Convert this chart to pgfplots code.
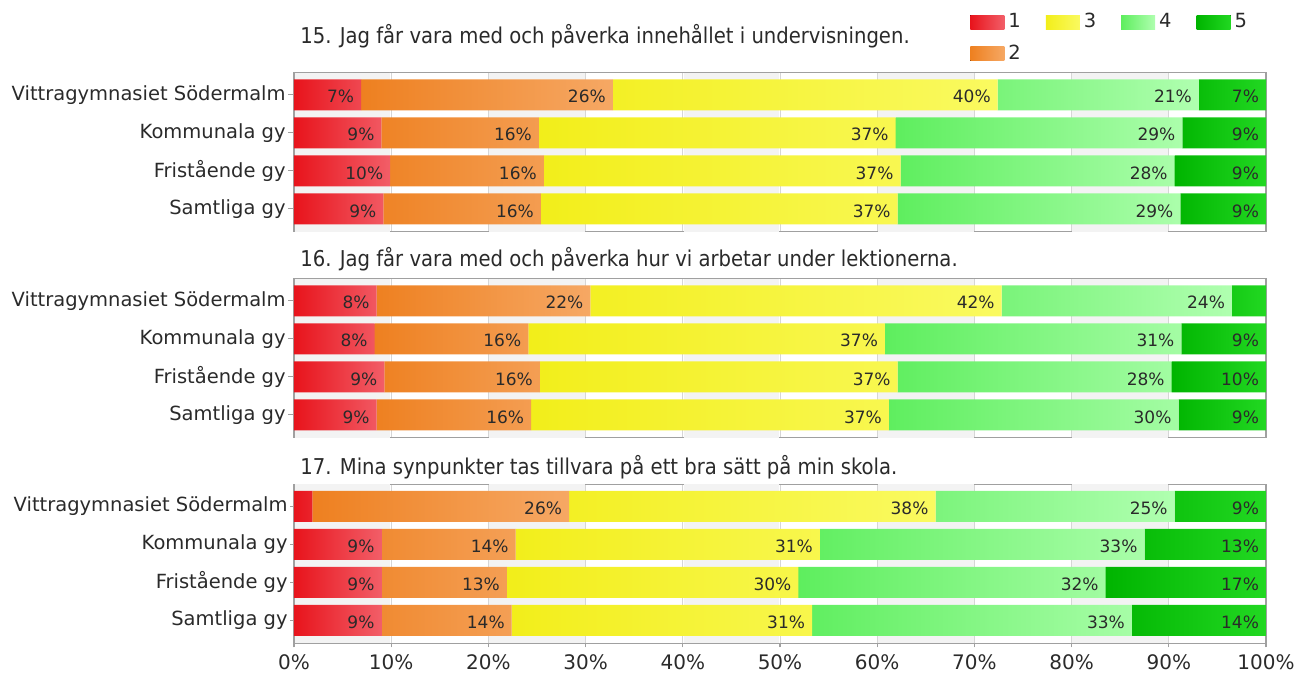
\documentclass[border=0pt]{standalone}
\usepackage{pgfplots}
\pgfplotsset{compat=1.18}
\usepackage{fontspec}
\setmainfont{DejaVu Sans}
\newfontfamily\condfont{DejaVu Sans Condensed}

\definecolor{r1}{HTML}{E8141C}\definecolor{r1l}{HTML}{F25E68}
\definecolor{o1}{HTML}{EE8020}\definecolor{o1l}{HTML}{F6A864}
\definecolor{y1}{HTML}{F2EE1A}\definecolor{y1l}{HTML}{FAFA60}
\definecolor{g1}{HTML}{5EEE5E}\definecolor{g1l}{HTML}{B0FFB0}
\definecolor{d1}{HTML}{00B400}\definecolor{d1l}{HTML}{22D822}
\definecolor{txt}{HTML}{2A2A2A}
\definecolor{framec}{HTML}{A0A0A0}
\definecolor{band}{HTML}{F3F3F3}
\definecolor{gridc}{HTML}{D6D6D6}

\pgfplotsset{
 panel/.style={
  scale only axis, width=486pt, height=79.5pt,
  xbar stacked, bar width=15.5pt,
  xmin=0, xmax=100, ymin=-0.58, ymax=3.6, y dir=reverse,
  ytick={0,1,2,3},
  yticklabels={Vittragymnasiet Södermalm, Kommunala gy, Fristående gy, Samtliga gy},
  xtick={0,10,...,100},
  extra x ticks={5,25,45,65,85},
  extra x tick labels={},
  extra x tick style={grid=major, major grid style={band, line width=47.8pt}, major tick length=0pt},
  xmajorgrids, grid style={gridc, line width=0.5pt},
  axis line style={framec, line width=0.6pt},
  tick align=outside, ytick pos=left, xtick pos=bottom,
  major tick length=3pt,
  tick style={framec, line width=0.6pt},
  yticklabel style={font=\fontsize{9.75}{11}\selectfont, text=txt, inner sep=1pt},
  xticklabel style={font=\fontsize{10}{12}\selectfont, text=txt},
  point meta=explicit symbolic,
  visualization depends on=rawx \as \rawx,
  nodes near coords,
  nodes near coords align=horizontal,
  every node near coord/.append style={anchor=east, xshift=\rawx*2.43pt, font=\fontsize{8.5}{10}\selectfont, text=txt, yshift=-1pt},
  clip=false,
  anchor=south west,
 },
 s1/.style={draw=none, left color=r1, right color=r1l},
 s2/.style={draw=none, left color=o1, right color=o1l},
 s3/.style={draw=none, left color=y1, right color=y1l},
 s4/.style={draw=none, left color=g1, right color=g1l},
 s5/.style={draw=none, left color=d1, right color=d1l},
}

\begin{document}
\begin{tikzpicture}
\useasboundingbox (0pt,0pt) rectangle (648pt,337pt);

% ---------- Panel 15 ----------
\begin{axis}[panel, at={(147pt,221.15pt)}, xticklabels={}, xtick style={draw=none}]
\addplot[s1] coordinates {(6.9,0) [7\%] (9.0,1) [9\%] (9.9,2) [10\%] (9.2,3) [9\%]};
\addplot[s2] coordinates {(25.9,0) [26\%] (16.2,1) [16\%] (15.8,2) [16\%] (16.2,3) [16\%]};
\addplot[s3] coordinates {(39.6,0) [40\%] (36.7,1) [37\%] (36.7,2) [37\%] (36.7,3) [37\%]};
\addplot[s4] coordinates {(20.7,0) [21\%] (29.5,1) [29\%] (28.2,2) [28\%] (29.1,3) [29\%]};
\addplot[s5] coordinates {(6.9,0) [7\%] (8.6,1) [9\%] (9.4,2) [9\%] (8.8,3) [9\%]};
\end{axis}

% ---------- Panel 16 ----------
\begin{axis}[panel, at={(147pt,118.15pt)}, xticklabels={}, xtick style={draw=none}]
\addplot[s1] coordinates {(8.5,0) [8\%] (8.3,1) [8\%] (9.3,2) [9\%] (8.5,3) [9\%]};
\addplot[s2] coordinates {(22.0,0) [22\%] (15.8,1) [16\%] (16.0,2) [16\%] (15.9,3) [16\%]};
\addplot[s3] coordinates {(42.3,0) [42\%] (36.7,1) [37\%] (36.8,2) [37\%] (36.8,3) [37\%]};
\addplot[s4] coordinates {(23.7,0) [24\%] (30.5,1) [31\%] (28.2,2) [28\%] (29.8,3) [30\%]};
\addplot[s5] coordinates {(3.5,0) [\relax] (8.7,1) [9\%] (9.7,2) [10\%] (9.0,3) [9\%]};
\end{axis}

% ---------- Panel 17 ----------
\begin{axis}[panel, at={(147pt,15.35pt)},
  xticklabels={0\%,10\%,20\%,30\%,40\%,50\%,60\%,70\%,80\%,90\%,100\%},
  major tick length=2pt]
\addplot[s1] coordinates {(1.9,0) [\relax] (9.0,1) [9\%] (9.0,2) [9\%] (9.0,3) [9\%]};
\addplot[s2] coordinates {(26.4,0) [26\%] (13.8,1) [14\%] (12.9,2) [13\%] (13.4,3) [14\%]};
\addplot[s3] coordinates {(37.7,0) [38\%] (31.3,1) [31\%] (30.0,2) [30\%] (30.9,3) [31\%]};
\addplot[s4] coordinates {(24.6,0) [25\%] (33.4,1) [33\%] (31.6,2) [32\%] (32.9,3) [33\%]};
\addplot[s5] coordinates {(9.4,0) [9\%] (12.5,1) [13\%] (16.5,2) [17\%] (13.8,3) [14\%]};
\end{axis}

% ---------- Legend ----------
\begin{axis}[hide axis, scale only axis, width=150pt, height=20pt, at={(482pt,314.5pt)}, anchor=south west,
  xmin=0, xmax=1, ymin=0, ymax=1,
  legend columns=4,
  legend style={at={(0,1)}, anchor=north west, draw=none, fill=none,
    font=\fontsize{9.75}{11}\selectfont, text=txt,
    /tikz/every odd column/.append style={column sep=0pt},
    /tikz/every even column/.append style={column sep=10.5pt},
    row sep=3pt},
  legend image code/.code={\fill[#1] (0pt,-3.5pt) rectangle (17pt,3.5pt);}]
\addlegendimage{s1}\addlegendentry{1}
\addlegendimage{s3}\addlegendentry{3}
\addlegendimage{s4}\addlegendentry{4}
\addlegendimage{s5}\addlegendentry{5}
\addlegendimage{s2}\addlegendentry{2}
\end{axis}

% ---------- Titles ----------
\node[anchor=base west, font=\condfont\fontsize{10.9}{12}\selectfont, text=txt, inner sep=0pt] at (150pt,315.25pt) {15. Jag får vara med och påverka innehållet i undervisningen.};
\node[anchor=base west, font=\condfont\fontsize{10.9}{12}\selectfont, text=txt, inner sep=0pt] at (150pt,203.65pt) {16. Jag får vara med och påverka hur vi arbetar under lektionerna.};
\node[anchor=base west, font=\condfont\fontsize{10.9}{12}\selectfont, text=txt, inner sep=0pt] at (150pt,99.75pt) {17. Mina synpunkter tas tillvara på ett bra sätt på min skola.};
\end{tikzpicture}
\end{document}
